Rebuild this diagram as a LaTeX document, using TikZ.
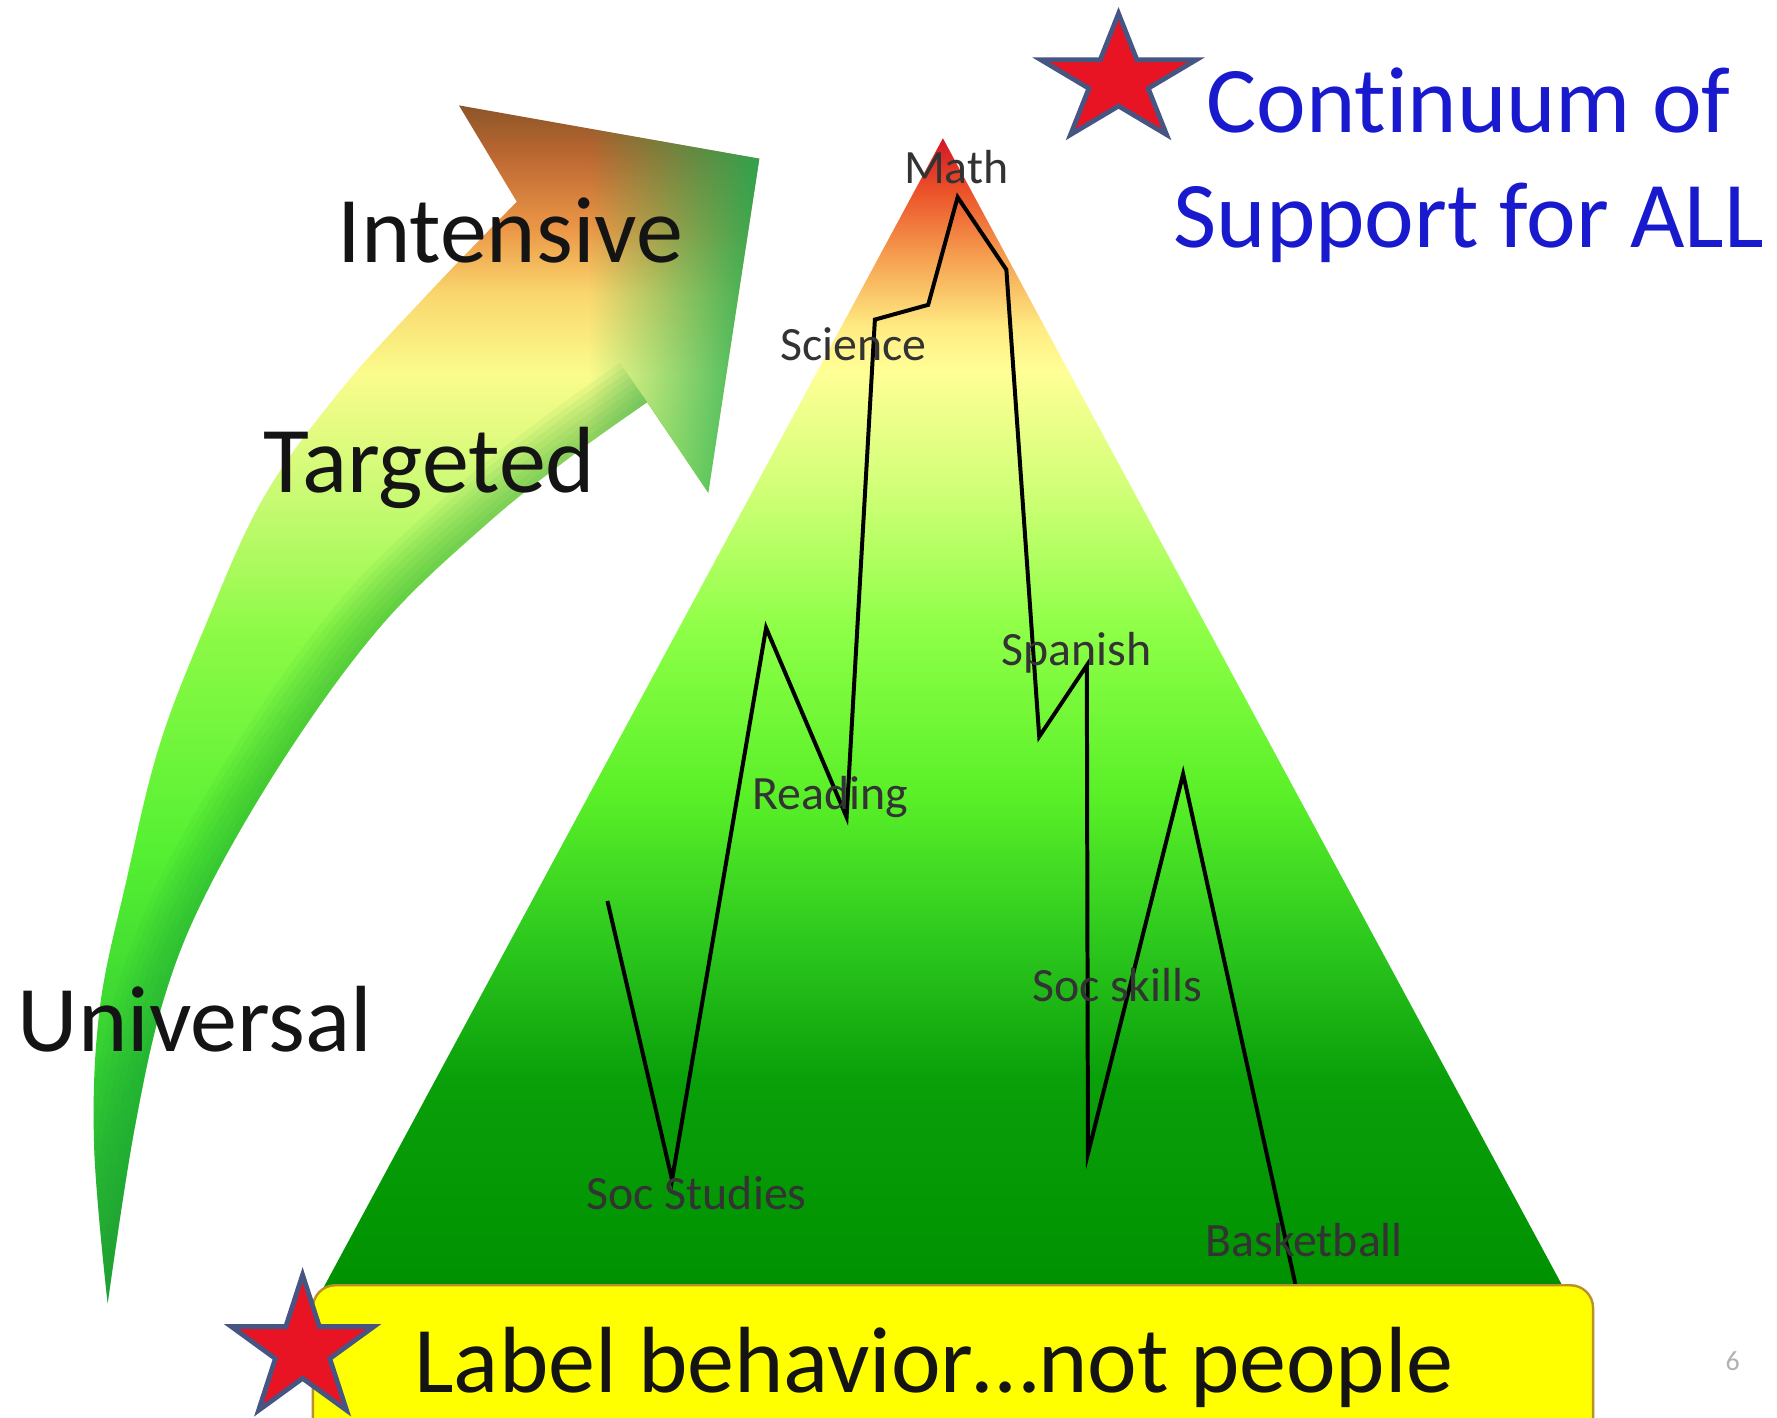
\documentclass[tikz,border=0pt]{standalone}
\usepackage{fontspec}
\setmainfont{Carlito}[Ligatures=NoCommon]
\usepackage{xcolor}
\usetikzlibrary{fadings}

% peak colours, bottom to top
\definecolor{pk0}{RGB}{0,145,0}
\definecolor{pk1}{RGB}{10,160,10}
\definecolor{pk2}{RGB}{45,200,30}
\definecolor{pk3}{RGB}{90,240,40}
\definecolor{pk4}{RGB}{140,255,70}
\definecolor{pk5}{RGB}{210,255,120}
\definecolor{pk6}{RGB}{255,255,150}
\definecolor{pk7}{RGB}{255,235,130}
\definecolor{pk8}{RGB}{245,160,80}
\definecolor{pk9}{RGB}{235,80,40}
\definecolor{pk10}{RGB}{210,20,40}
% arrow colours, tail to head
\definecolor{ar0}{RGB}{40,170,60}
\definecolor{ar1}{RGB}{50,205,50}
\definecolor{ar2}{RGB}{85,240,50}
\definecolor{ar3}{RGB}{140,250,70}
\definecolor{ar4}{RGB}{200,250,115}
\definecolor{ar5}{RGB}{250,252,140}
\definecolor{ar6}{RGB}{250,215,110}
\definecolor{ar7}{RGB}{235,150,70}
\definecolor{ar8}{RGB}{190,105,50}
\definecolor{ar9}{RGB}{140,85,40}
\definecolor{headgreen}{RGB}{30,170,80}
\definecolor{bandgreen}{RGB}{20,150,50}
\definecolor{starred}{RGB}{232,20,35}
\definecolor{starblue}{RGB}{70,85,130}
\definecolor{boxyellow}{RGB}{255,255,0}
\definecolor{boxedge}{RGB}{185,145,40}
\definecolor{titleblue}{RGB}{25,25,205}
\definecolor{labelblack}{RGB}{20,20,20}

\pgfdeclareverticalshading{peakshade}{100bp}{color(0bp)=(pk0); color(25bp)=(pk0);
  color(34.2bp)=(pk1); color(40.1bp)=(pk2); color(46.5bp)=(pk3); color(53.5bp)=(pk4);
  color(59.9bp)=(pk5); color(64.9bp)=(pk6); color(66.8bp)=(pk7); color(69.8bp)=(pk8);
  color(72.8bp)=(pk9); color(75bp)=(pk10); color(100bp)=(pk10)}
\pgfdeclareverticalshading{arrowshade}{100bp}{color(0bp)=(ar0); color(25bp)=(ar0);
  color(34.5bp)=(ar1); color(43.9bp)=(ar2); color(52.9bp)=(ar3); color(58.6bp)=(ar4);
  color(63.8bp)=(ar5); color(67.1bp)=(ar6); color(69.9bp)=(ar7); color(72.8bp)=(ar8);
  color(75bp)=(ar9); color(100bp)=(ar9)}
\tikzfading[name=fadeinright, left color=transparent!100, right color=transparent!0]

\newcommand{\bendarrow}{plot[smooth, tension=0.6] coordinates {(95,1150) (83,1010) (88,890) (112,775) (140,660) (180,555) (232,440) (300,345) (375,262) (456,178)} -- (405,93) -- (670,140) -- (625,435) -- plot[smooth, tension=0.6] coordinates {(571,355) (505,402) (431,461) (340,548) (258,658) (185,782) (145,880) (118,1000) (95,1150)} -- cycle}

\begin{document}
\begin{tikzpicture}[x=0.01cm, y=-0.01cm,
  biglabel/.style={font=\fontsize{23.6pt}{28.7pt}\selectfont, text=labelblack, inner sep=0pt},
  subject/.style={font=\fontsize{12pt}{14pt}\selectfont, text=black!80, inner sep=0pt, anchor=base west},
  profile/.style={line width=1pt, black},
  innerband/.style={bandgreen, opacity=0.06},
  starmark/.style={fill=starred, draw=starblue, line width=1.2pt, line join=miter},
  notebox/.style={draw=boxedge, fill=boxyellow, line width=0.6pt, rounded corners=0.2cm, minimum width=11.29cm, minimum height=1.6cm, inner sep=0pt}
]
  \useasboundingbox (0,0) rectangle (1568,1251);
  \clip (0,0) rectangle (1568,1251);

  % curved arrow
  \shade[shading=arrowshade] \bendarrow;
  \begin{scope}
    \clip \bendarrow;
    \foreach \w in {3pt,6pt,...,24pt}
      \draw[innerband, line width=\w] plot[smooth, tension=0.6] coordinates {(571,355) (505,402) (431,461) (340,548) (258,658) (185,782) (145,880) (118,1000) (95,1150)};
    \fill[headgreen, path fading=fadeinright] (520,80) rectangle (690,460);
  \end{scope}

  % the peak
  \coordinate (apex) at (832,122);
  \coordinate (baseR) at (1380,1137);
  \coordinate (baseL) at (285,1137);
  \shade[shading=peakshade] (apex) -- (baseR) -- (baseL) -- cycle;

  \draw[profile] (536,795) -- (593,1041) -- (676,554) -- (747,721) -- (772,282)
    -- (819,269) -- (845,174) -- (888,238) -- (917,650) -- (959,587)
    -- (960,1018) -- (1044,683) -- (1143,1133);

  \node[subject] (math) at (797,162) {Math};
  \node[subject] (science) at (688,318) {Science};
  \node[subject] (spanish) at (883,587) {Spanish};
  \node[subject] (reading) at (663,714) {Reading};
  \node[subject] (socskills) at (910,884) {Soc skills};
  \node[subject] (socstudies) at (517,1067) {Soc Studies};
  \node[subject] (basketball) at (1063,1109) {Basketball};

  \node[biglabel, anchor=base west] (intensive) at (297,232) {Intensive};
  \node[biglabel, anchor=base west] (targeted) at (232,435) {Targeted};
  \node[biglabel, anchor=base west] (universal) at (15,928) {Universal};

  \node[biglabel, text=titleblue, anchor=base] (title) at (1296,117) {Continuum of};
  \node[biglabel, text=titleblue, anchor=base] (subtitle) at (1296,218) {Support for ALL};

  % note at the bottom
  \node[notebox, anchor=north west] (notebox) at (275,1133) {};
  \node[biglabel, anchor=base west] (notetext) at (365,1229) {Label behavior…not people};

  % stars
  \begin{scope}[shift={(987,71)}, x=0.72cm, y=0.59cm]
    \filldraw[starmark] (90:1) \foreach \k in {0,...,4} { -- ({126+72*\k}:0.382) -- ({162+72*\k}:1)} -- cycle;
  \end{scope}
  \begin{scope}[shift={(267,1191)}, x=0.66cm, y=0.66cm]
    \filldraw[starmark] (90:1) \foreach \k in {0,...,4} { -- ({126+72*\k}:0.382) -- ({162+72*\k}:1)} -- cycle;
  \end{scope}

  \node[font=\fontsize{7pt}{8pt}\selectfont, text=gray!60] (pagenum) at (1529,1201) {6};
\end{tikzpicture}
\end{document}
